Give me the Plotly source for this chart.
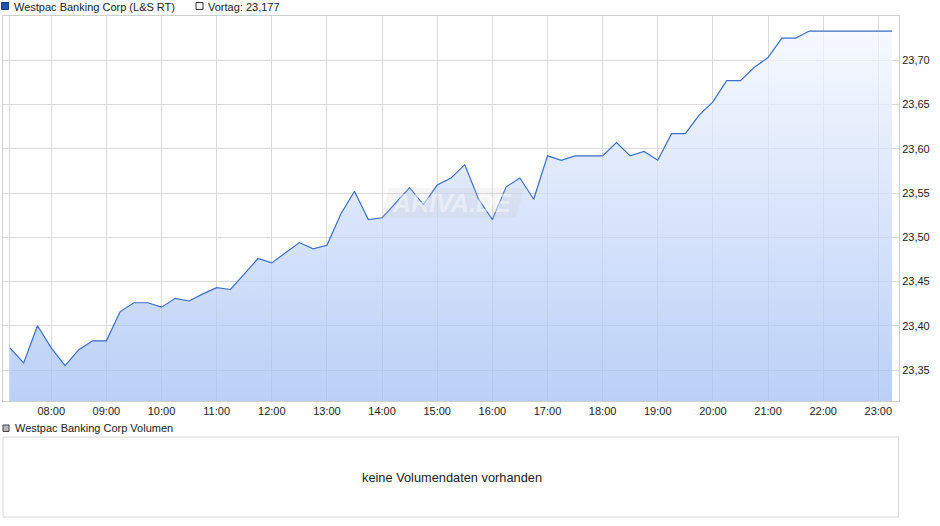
import plotly.graph_objects as go
import pandas as pd

# ---- data ----
day = "2024-05-10"
times = pd.date_range(f"{day} 07:15", f"{day} 23:15", freq="15min")
prices = [
    23.375, 23.358, 23.400, 23.375, 23.355, 23.373, 23.383, 23.383,   # 07:15-09:00
    23.416, 23.426, 23.426, 23.421, 23.431, 23.428, 23.436, 23.443,   # 09:15-11:00
    23.441, 23.459, 23.476, 23.471, 23.482, 23.494, 23.487, 23.491,   # 11:15-13:00
    23.526, 23.552, 23.520, 23.522, 23.539, 23.556, 23.537, 23.559,   # 13:15-15:00
    23.567, 23.582, 23.543, 23.520, 23.557, 23.567, 23.543, 23.592,   # 15:15-17:00
    23.587, 23.592, 23.592, 23.592, 23.607, 23.592, 23.597, 23.587,   # 17:15-19:00
    23.617, 23.617, 23.638, 23.653, 23.677, 23.677, 23.692, 23.703,   # 19:15-21:00
    23.725, 23.725, 23.733, 23.733, 23.733, 23.733, 23.733, 23.733,   # 21:15-23:00
    23.733,                                                           # 23:15
]
y_ticks = [23.35, 23.40, 23.45, 23.50, 23.55, 23.60, 23.65, 23.70]
x_tick_labels = ["08:00", "09:00", "10:00", "11:00", "12:00", "13:00", "14:00", "15:00",
                 "16:00", "17:00", "18:00", "19:00", "20:00", "21:00", "22:00", "23:00"]
series_name = "Westpac Banking Corp (L&S RT)"
prev_close_label = "Vortag: 23,177"
volume_label = "Westpac Banking Corp Volumen"
no_volume_text = "keine Volumendaten vorhanden"

# ---- layout geometry (pixels) ----
W, H = 940, 526
ML, MR, MT, MB = 3, 41, 16, 8
PW, PH = W - ML - MR, H - MT - MB


def px_x(x):
    return (x - ML) / PW


def px_y(y):
    return (H - MB - y) / PH


FONT = "Liberation Sans, Arial, sans-serif"

x_tickvals = [f"{day} 07:15"] + [f"{day} {t}" for t in x_tick_labels]
x_ticktext = [""] + x_tick_labels

fig = go.Figure()
fig.add_trace(go.Scatter(
    x=times, y=prices, mode="lines",
    line=dict(color="#3a6cc9", width=1.2),
    fill="tozeroy",
    fillgradient=dict(
        type="vertical",
        colorscale=[[0, "rgba(160,190,244,0.72)"], [1, "rgba(246,249,255,0.72)"]],
        start=23.315, stop=23.75,
    ),
    hoverinfo="x+y", showlegend=False,
))

grid = "#dadada"
fig.update_layout(
    width=W, height=H,
    margin=dict(l=ML, r=MR, t=MT, b=MB),
    paper_bgcolor="white", plot_bgcolor="white",
    separators=",.",
    font=dict(family=FONT, size=11, color="#222"),
    showlegend=False,
    xaxis=dict(
        type="date",
        range=[f"{day} 07:07:30", f"{day} 23:22:30"],
        tickvals=x_tickvals, ticktext=x_ticktext,
        showgrid=True, gridcolor=grid, gridwidth=1,
        showline=True, linecolor="#cfcfcf", mirror=True,
        ticks="", zeroline=False,
        tickfont=dict(size=11, color="#222"),
    ),
    yaxis=dict(
        domain=[px_y(401), 1],
        side="right",
        range=[23.315, 23.75],
        tickvals=y_ticks, tickformat=".2f",
        showgrid=True, gridcolor=grid, gridwidth=1,
        showline=True, linecolor="#cfcfcf", mirror=True,
        ticks="", zeroline=False,
        tickfont=dict(size=11, color="#222"),
    ),
)

shapes = []
annotations = []

# watermark
wx0, wx1, wy0, wy1 = 381, 524, 188, 218
shapes.append(dict(
    type="path", xref="paper", yref="paper", layer="above",
    path=(f"M {px_x(wx0+8)},{px_y(wy0)} L {px_x(wx1)},{px_y(wy0)} "
          f"L {px_x(wx1-8)},{px_y(wy1)} L {px_x(wx0)},{px_y(wy1)} Z"),
    fillcolor="rgba(190,190,190,0.16)", line=dict(width=0),
))
annotations.append(dict(
    xref="paper", yref="paper", x=px_x((wx0 + wx1) / 2), y=px_y((wy0 + wy1) / 2),
    text="<b><i>ARIVA.DE</i></b>", showarrow=False,
    font=dict(family=FONT, size=25, color="rgba(255,255,255,0.45)"),
))

# top legend
shapes.append(dict(type="rect", xref="paper", yref="paper",
                   x0=px_x(1.5), x1=px_x(8.5), y0=px_y(9.5), y1=px_y(2.5),
                   fillcolor="#1f52b0", line=dict(color="#163c82", width=1)))
annotations.append(dict(xref="paper", yref="paper", x=px_x(11.5), y=px_y(6.5),
                        xanchor="left", yanchor="middle", text=series_name,
                        showarrow=False, font=dict(family=FONT, size=11, color="#222")))
shapes.append(dict(type="rect", xref="paper", yref="paper",
                   x0=px_x(196), x1=px_x(203), y0=px_y(9.5), y1=px_y(2.5),
                   fillcolor="white", line=dict(color="#333", width=1)))
annotations.append(dict(xref="paper", yref="paper", x=px_x(205.5), y=px_y(6.5),
                        xanchor="left", yanchor="middle", text=prev_close_label,
                        showarrow=False, font=dict(family=FONT, size=11, color="#222")))

# volume panel
shapes.append(dict(type="rect", xref="paper", yref="paper",
                   x0=px_x(3), x1=px_x(9), y0=px_y(431.5), y1=px_y(425),
                   fillcolor="#b8b8b8", line=dict(color="#444", width=1)))
annotations.append(dict(xref="paper", yref="paper", x=px_x(12.5), y=px_y(428.5),
                        xanchor="left", yanchor="middle", text=volume_label,
                        showarrow=False, font=dict(family=FONT, size=11, color="#222")))
shapes.append(dict(type="rect", xref="paper", yref="paper",
                   x0=px_x(3), x1=px_x(898.5), y0=px_y(517), y1=px_y(437),
                   fillcolor="white", line=dict(color="#d6d6d6", width=1)))
annotations.append(dict(xref="paper", yref="paper", x=px_x(451.5), y=px_y(477),
                        xanchor="center", yanchor="middle", text=no_volume_text,
                        showarrow=False, font=dict(family=FONT, size=12.8, color="#222")))

fig.update_layout(shapes=shapes, annotations=annotations)
fig.write_html(
    "out.html",
    config={"displayModeBar": False},
    post_script="document.body.style.margin='0';document.body.style.overflow='hidden';",
)
